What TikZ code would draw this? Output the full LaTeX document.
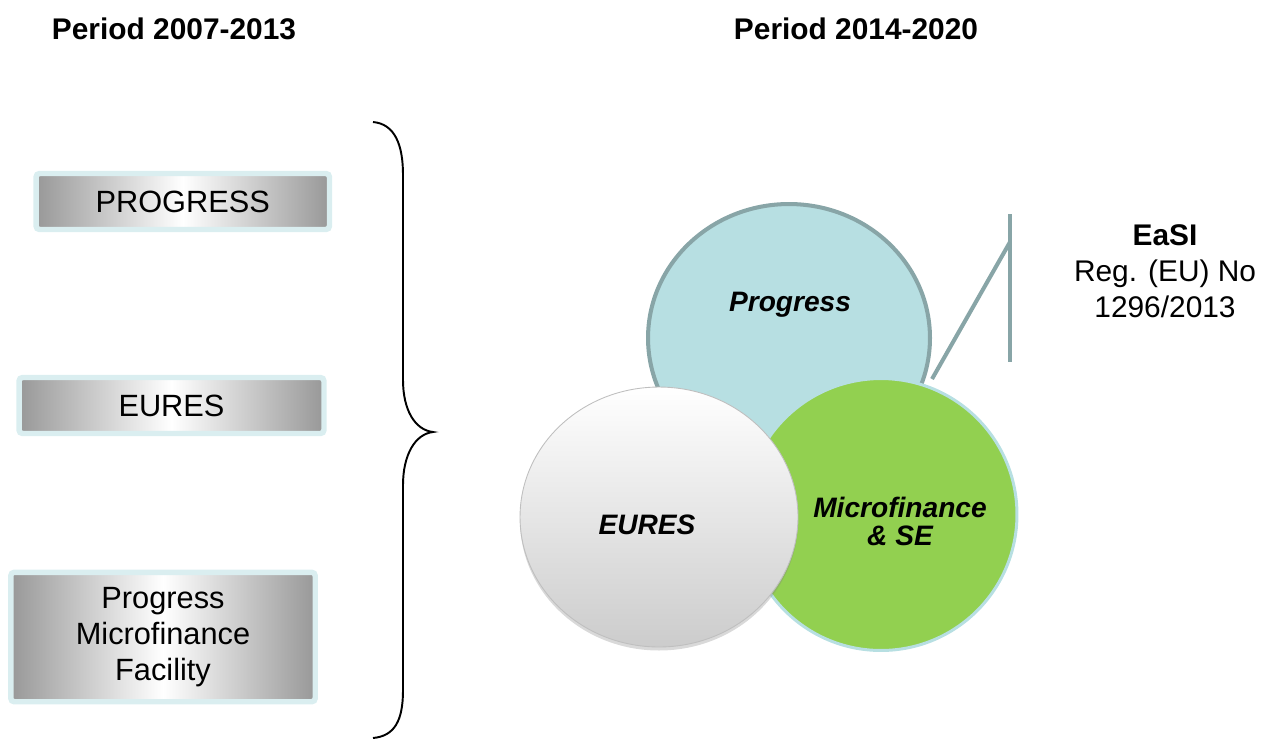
\documentclass[tikz,border=0pt]{standalone}
\usepackage{fontspec}
\usepackage{tikz}
\setmainfont{Liberation Sans}
\definecolor{boxrim}{HTML}{DAEEF0}
\definecolor{boxgray}{HTML}{989898}
\definecolor{progfill}{HTML}{B7DFE2}
\definecolor{progrim}{HTML}{88A5A7}
\definecolor{microgreen}{HTML}{92D050}
\usetikzlibrary{shapes.geometric,shadows}
\tikzstyle{headtxt}=[font=\bfseries\fontsize{17}{20}\selectfont, inner sep=0pt]
\tikzstyle{oldbox}=[draw=boxrim, line width=3.1pt, rounded corners=2pt, left color=boxgray, right color=boxgray, middle color=white, inner sep=0pt, align=center, font=\fontsize{17.5}{20.6}\selectfont]
\tikzstyle{circtxt}=[font=\bfseries\itshape\fontsize{16}{16}\selectfont, align=center, inner sep=0pt]
\tikzstyle{easiline}=[draw=progrim, line width=2.3pt]

\begin{document}
\begin{tikzpicture}[x=0.02cm, y=-0.02cm]
			\useasboundingbox (0,0) rectangle (1263,738);
			\node[headtxt] (oldhead) at (174,29) {Period 2007-2013};
			\node[headtxt] (newhead) at (856,29) {Period 2014-2020};
			% programmes 2007-2013
			\node[oldbox, minimum width=5.87cm, minimum height=1.12cm] (oldprog) at (182.75,201.5) {PROGRESS};
			\node[oldbox, minimum width=6.1cm, minimum height=1.12cm] (oldeures) at (171.5,405.5) {EURES};
			\node[oldbox, minimum width=6.09cm, minimum height=2.59cm] (oldpmf) at (163,637) {Progress\\Microfinance\\Facility};
			\path[draw=black, line width=1.1pt]
				(373,122) .. controls (395,124) and (403,145) .. (403,175) -- (403,380)
				.. controls (403,410) and (415,430) .. (433,432)
				.. controls (415,434) and (403,455) .. (403,485) -- (403,690)
				.. controls (403,720) and (395,736) .. (373,738);
			% programmes 2014-2020
			\node[ellipse, draw=progrim, line width=2.3pt, fill=progfill, minimum width=5.64cm, minimum height=5.36cm, inner sep=0pt] (prog) at (789,338) {};
			\node[circle, draw=progfill, line width=1.7pt, fill=microgreen, minimum size=5.44cm, inner sep=0pt] (micro) at (881,514.5) {};
			\node[ellipse, draw=black!25, line width=0.5pt, top color=white, middle color=white, bottom color=black!20, drop shadow={shadow xshift=0pt, shadow yshift=-2pt, opacity=0.3}, minimum width=5.56cm, minimum height=5.2cm, inner sep=0pt] (eures) at (659,517) {};
			\node[circtxt] (progtxt) at (790,305) {Progress};
			\node[circtxt] (eurestxt) at (647,525) {EURES};
			\node[circtxt] (microtxt) at (900,521) {Microfinance\\[0pt]\& SE};
			% EaSI
			\coordinate (easifoot) at (932,379);
			\coordinate (easijoin) at (1010,242);
			\coordinate (easitop) at (1010,214);
			\coordinate (easibot) at (1010,362);
			\path[easiline] (easifoot) -- (easijoin);
			\path[easiline] (easitop) -- (easibot);
			\node[align=center, inner sep=0pt, font=\fontsize{17}{20.6}\selectfont] (easi) at (1165,271) {\textbf{EaSI}\\Reg. (EU) No\\1296/2013};
		\end{tikzpicture}
\end{document}
